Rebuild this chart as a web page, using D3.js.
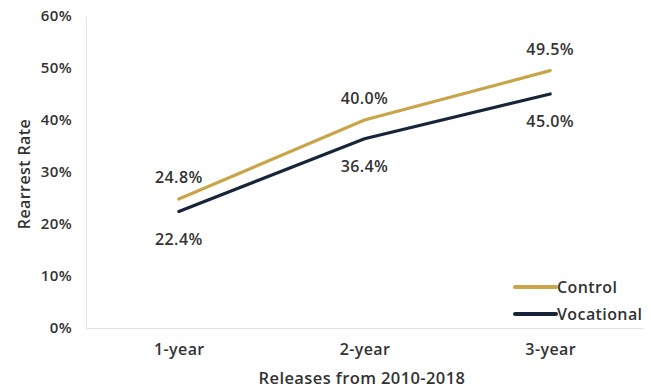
<!DOCTYPE html>
<html>
<head>
<meta charset="utf-8">
<script src="https://cdn.jsdelivr.net/npm/d3@7"></script>
<style>
  body { margin: 0; background: #fff; }
  text { font-family: "Open Sans", "DejaVu Sans", sans-serif; letter-spacing: 0.4px; }
</style>
</head>
<body>
<div id="vis-holder"></div>
<script>
// data
const periods = ["1-year", "2-year", "3-year"];
const control = [24.8, 40.0, 49.5];
const vocational = [22.4, 36.4, 45.0];
const yTicks = [0, 10, 20, 30, 40, 50, 60];

const width = 651, height = 391;
const margin = { top: 16, right: 8, bottom: 63, left: 86 };

const svg = d3.select("#vis-holder").append("svg")
    .attr("width", width)
    .attr("height", height);

let x = d3.scalePoint()
    .domain(periods)
    .range([margin.left, width - margin.right])
    .padding(0.5);

let y = d3.scaleLinear()
    .domain([0, 60])
    .range([height - margin.bottom, margin.top]);

// y axis
svg.append("g")
    .attr("transform", `translate(${margin.left}, 0)`)
    .call(d3.axisLeft(y).tickValues(yTicks).tickSize(0).tickPadding(14).tickFormat(d => d + "%"))
    .call(g => g.select(".domain").attr("stroke", "#e2e2e2"))
    .call(g => g.selectAll(".tick text")
        .attr("font-size", "15px").attr("font-weight", 600).attr("fill", "#333")
        .style("font-family", "'Open Sans', sans-serif"));

// x axis
svg.append("g")
    .attr("transform", `translate(0, ${height - margin.bottom})`)
    .call(d3.axisBottom(x).tickSize(0).tickPadding(16))
    .call(g => g.select(".domain").attr("stroke", "#e2e2e2"))
    .call(g => g.selectAll(".tick text")
        .attr("font-size", "16px").attr("font-weight", 600).attr("fill", "#333")
        .style("font-family", "'Open Sans', sans-serif"));

svg.append("text")
    .attr("x", 362).attr("y", 384)
    .attr("text-anchor", "middle")
    .attr("font-size", "16.5px").attr("font-weight", 600).attr("fill", "#333")
    .text("Releases from 2010-2018");

svg.append("text")
    .attr("transform", "translate(30, 174) rotate(-90)")
    .attr("text-anchor", "middle")
    .attr("font-size", "16px").attr("font-weight", 600).attr("fill", "#333")
    .text("Rearrest Rate");

const series = [
  { name: "Control", values: control, color: "#c9a448", dy: -16 },
  { name: "Vocational", values: vocational, color: "#182538", dy: 33 }
];

const line = d3.line()
    .x((d, i) => x(periods[i]))
    .y(d => y(d));

series.forEach(s => {
  svg.append("path")
      .datum(s.values)
      .attr("fill", "none")
      .attr("stroke", s.color)
      .attr("stroke-width", 3.2)
      .attr("stroke-linecap", "round")
      .attr("d", line);

  svg.selectAll(null)
      .data(s.values)
      .enter()
      .append("text")
      .attr("x", (d, i) => x(periods[i]))
      .attr("y", d => y(d) + s.dy)
      .attr("text-anchor", "middle")
      .attr("font-size", "16px").attr("font-weight", 600).attr("fill", "#333")
      .text(d => d.toFixed(1) + "%");
});

// legend
const legend = svg.append("g").attr("transform", "translate(515, 287)");
series.forEach((s, i) => {
  legend.append("line")
      .attr("x1", 0).attr("x2", 41)
      .attr("y1", i * 27).attr("y2", i * 27)
      .attr("stroke", s.color).attr("stroke-width", 4)
      .attr("stroke-linecap", "round");
  legend.append("text")
      .attr("x", 42).attr("y", i * 27 + 6)
      .attr("font-size", "16px").attr("font-weight", 600).attr("fill", "#333")
      .text(s.name);
});
</script>
</body>
</html>
